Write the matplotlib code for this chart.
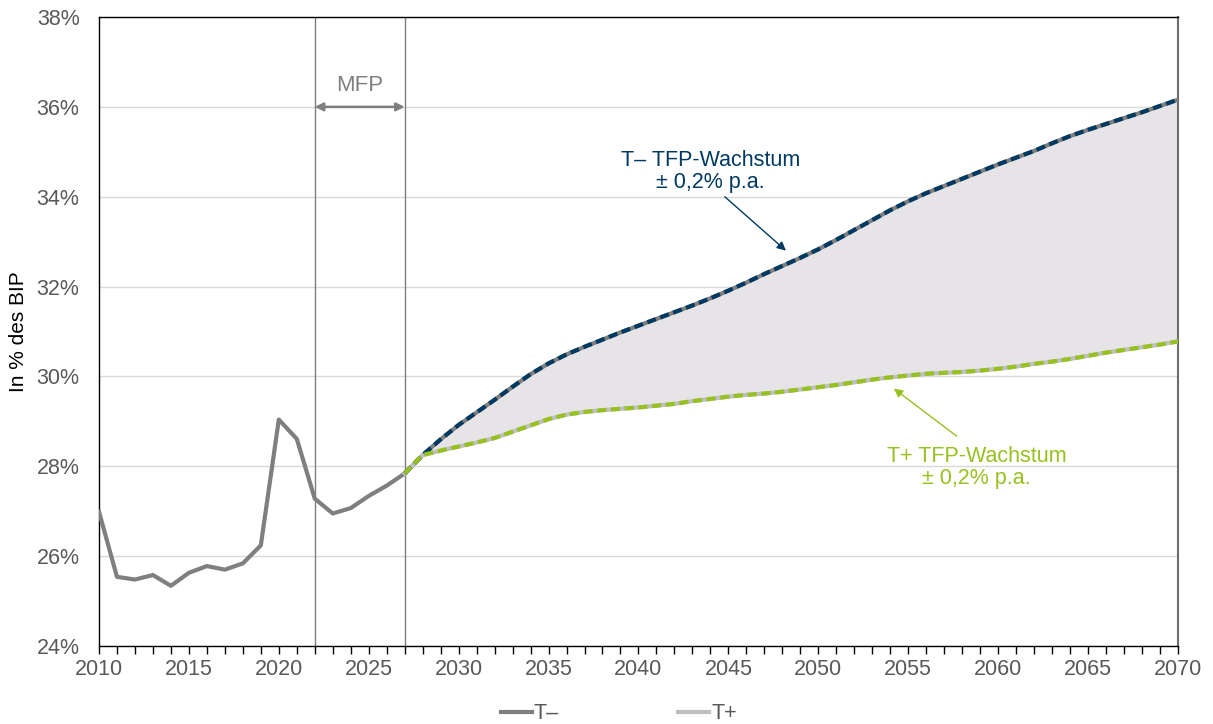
import matplotlib.pyplot as plt
from matplotlib.lines import Line2D

plt.rcParams['font.family'] = ['Liberation Sans', 'DejaVu Sans']

# historische Werte 2010-2027
hist_years = list(range(2010, 2028))
hist_vals = [26.99, 25.54, 25.48, 25.58, 25.34, 25.63, 25.78, 25.70, 25.84, 26.24,
             29.04, 28.61, 27.28, 26.95, 27.07, 27.34, 27.57, 27.84]

# Projektion 2027-2070
proj_years = list(range(2027, 2071))
t_minus = [27.84, 28.25, 28.60, 28.92, 29.20, 29.48, 29.77, 30.05, 30.29, 30.49,
           30.66, 30.82, 30.98, 31.13, 31.28, 31.43, 31.58, 31.74, 31.91, 32.09,
           32.28, 32.46, 32.64, 32.83, 33.04, 33.26, 33.48, 33.70, 33.90, 34.08,
           34.24, 34.40, 34.56, 34.72, 34.87, 35.02, 35.19, 35.35, 35.49, 35.62,
           35.75, 35.88, 36.02, 36.16]
t_plus = [27.84, 28.25, 28.35, 28.44, 28.53, 28.63, 28.77, 28.91, 29.05, 29.15,
          29.21, 29.25, 29.28, 29.31, 29.35, 29.39, 29.45, 29.50, 29.55, 29.59,
          29.62, 29.66, 29.71, 29.76, 29.81, 29.87, 29.93, 29.98, 30.02, 30.06,
          30.08, 30.10, 30.13, 30.17, 30.22, 30.28, 30.33, 30.39, 30.46, 30.53,
          30.59, 30.65, 30.71, 30.78]

mfp_start = 2022
mfp_end = 2027

grey = '#7f7f7f'
light_grey = '#bfbfbf'
blue = '#003a63'
green = '#97c11f'
tick_col = '#595959'

fig = plt.figure(figsize=(12.13, 7.24), dpi=100)
ax = fig.add_axes([0.0816, 0.1077, 0.8895, 0.8688])

ax.fill_between(proj_years, t_plus, t_minus, color='#e6e4e6', lw=0, zorder=1)
ax.plot(hist_years, hist_vals, color=grey, lw=3, zorder=3)
ax.plot(proj_years, t_minus, color=grey, lw=3, zorder=3)
ax.plot(proj_years, t_plus, color=light_grey, lw=3, zorder=3)
ax.plot(proj_years, t_minus, color=blue, lw=3, ls=(0, (2.2, 1.1)), zorder=4)
ax.plot(proj_years, t_plus, color=green, lw=3, ls=(0, (2.2, 1.1)), zorder=4)

ax.axvline(mfp_start, color=grey, lw=1, zorder=2)
ax.axvline(mfp_end, color=grey, lw=1, zorder=2)
ax.annotate('', xy=(mfp_start, 36), xytext=(mfp_end, 36),
            arrowprops=dict(arrowstyle='<|-|>', color=grey, lw=1.8,
                            mutation_scale=12, shrinkA=0, shrinkB=0), zorder=5)
ax.text((mfp_start + mfp_end) / 2, 36.47, 'MFP', ha='center', va='center',
        fontsize=16, color=grey)

ax.annotate('', xy=(2048.2, 32.8), xytext=(2044.8, 34.0),
            arrowprops=dict(arrowstyle='-|>', color=blue, lw=1, mutation_scale=13,
                            shrinkA=0, shrinkB=0), zorder=6)
ax.text(2044.0, 34.56, 'T\u2013 TFP-Wachstum\n\u00b1 0,2% p.a.', ha='center', va='center',
        fontsize=15.5, color=blue, linespacing=1.05)

ax.annotate('', xy=(2054.2, 29.73), xytext=(2057.7, 28.67),
            arrowprops=dict(arrowstyle='-|>', color=green, lw=1, mutation_scale=13,
                            shrinkA=0, shrinkB=0), zorder=6)
ax.text(2058.8, 27.97, 'T+ TFP-Wachstum\n\u00b1 0,2% p.a.', ha='center', va='center',
        fontsize=15.5, color=green, linespacing=1.05)

ax.set_xlim(2010, 2070)
ax.set_ylim(24, 38)
ax.set_xticks(range(2010, 2071, 5))
ax.set_xticks(range(2010, 2071), minor=True)
ax.set_yticks(range(24, 39, 2))
ax.set_yticklabels([f'{v}%' for v in range(24, 39, 2)])
ax.tick_params(axis='x', which='both', direction='out', length=6, width=1,
               color='black', labelsize=15.5, labelcolor=tick_col, pad=3)
ax.tick_params(axis='y', length=0, labelsize=15.5, labelcolor=tick_col, pad=14)
ax.grid(axis='y', color='#d9d9d9', lw=1, zorder=0)
ax.set_axisbelow(True)
for side in ['left', 'bottom', 'top']:
    ax.spines[side].set_color('black')
    ax.spines[side].set_linewidth(1)
ax.spines['right'].set_color('#6d6d6d')
ax.spines['right'].set_linewidth(1.5)
ax.set_ylabel('In % des BIP', fontsize=15, labelpad=6)

handles = [Line2D([], [], color=grey, lw=3), Line2D([], [], color=light_grey, lw=3)]
fig.legend(handles, ['T\u2013', 'T+'], loc='lower center', bbox_to_anchor=(0.51, -0.027),
           ncol=2, frameon=False, fontsize=15.5, handlelength=1.45, handletextpad=0.1,
           columnspacing=5.5, labelcolor=tick_col)

fig.savefig('out.png', dpi=100)
